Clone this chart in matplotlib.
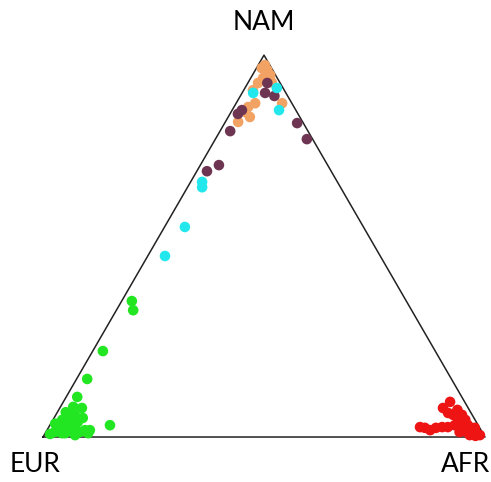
import numpy as np
import matplotlib
matplotlib.use('Agg')
import matplotlib.pyplot as plt

# ternary proportions: (AFR, NAM); EUR = 1 - AFR - NAM
orange_afr = [0.027, 0.028, 0.023, 0.021, 0.015, 0.040, 0.104, 0.032, 0.043, 0.049, 0.029, 0.012, 0.053, 0.032]
orange_nam = [0.961, 0.940, 0.927, 0.908, 0.974, 0.948, 0.874, 0.864, 0.874, 0.838, 0.825, 0.966, 0.929, 0.851]

purple_afr = [0.044, 0.052, 0.077, 0.022, 0.018, 0.023, 0.164, 0.207, 0.042, 0.023]
purple_nam = [0.927, 0.901, 0.893, 0.856, 0.846, 0.801, 0.822, 0.780, 0.712, 0.696]

cyan_afr = [0.072, 0.106, 0.025, 0.026, 0.033, 0.046, 0.039]
cyan_nam = [0.914, 0.856, 0.901, 0.668, 0.654, 0.550, 0.474]

green_afr = [0.023, 0.038, 0.023, 0.024, 0.025, 0.029, 0.050, 0.035, 0.065, 0.097, 0.136,
             0.029, 0.034, 0.052, 0.060, 0.038, 0.020, 0.077, 0.037, 0.043, 0.045, 0.086,
             0.012, 0.019, 0.021, 0.019, 0.050, 0.059, 0.097, 0.030, 0.070, 0.010]
green_nam = [0.356, 0.332, 0.225, 0.152, 0.105, 0.079, 0.076, 0.052, 0.050, 0.018, 0.031,
             0.018, 0.031, 0.018, 0.024, 0.010, 0.013, 0.013, 0.039, 0.058, 0.010, 0.018,
             0.008, 0.026, 0.045, 0.065, 0.031, 0.039, 0.010, 0.060, 0.005, 0.035]

red_afr = [0.867, 0.875, 0.902, 0.919, 0.933, 0.946, 0.962, 0.975, 0.986, 0.840, 0.852,
           0.867, 0.877, 0.890, 0.903, 0.885, 0.935, 0.952, 0.963, 0.917, 0.899, 0.965,
           0.916, 0.936, 0.977, 0.928]
red_nam = [0.076, 0.092, 0.071, 0.058, 0.045, 0.031, 0.018, 0.010, 0.005, 0.026, 0.024,
           0.018, 0.024, 0.026, 0.026, 0.063, 0.026, 0.013, 0.005, 0.045, 0.058, 0.024,
           0.031, 0.013, 0.003, 0.038]

vertex_labels = ['EUR', 'AFR', 'NAM']


def tern(afr, nam):
    afr = np.asarray(afr)
    nam = np.asarray(nam)
    return afr + nam / 2.0, nam * np.sqrt(3) / 2.0


fig = plt.figure(figsize=(4.91, 4.82), dpi=100)
ax = fig.add_axes([0, 0, 1, 1])
ax.set_xlim(-0.0973, 1.0136)
ax.set_ylim(-0.102, 0.991)
ax.axis('off')

# triangle outline
tx, ty = tern([0, 1, 0, 0], [0, 0, 1, 0])
ax.plot(tx, ty, color='#222222', lw=1.1, zorder=1)

ms = 58
for a, n, c in [(orange_afr, orange_nam, '#F2A262'),
                (purple_afr, purple_nam, '#6E3553'),
                (cyan_afr, cyan_nam, '#22E8EE'),
                (green_afr, green_nam, '#22E622'),
                (red_afr, red_nam, '#EE1414')]:
    x, y = tern(a, n)
    ax.scatter(x, y, s=ms, c=c, marker='o', edgecolors='none', zorder=2)

fs = 19
ax.text(-0.018, -0.063, vertex_labels[0], fontsize=fs, family='Lato', ha='center', va='center')
ax.text(0.955, -0.063, vertex_labels[1], fontsize=fs, family='Lato', ha='center', va='center')
ax.text(0.5, 0.941, vertex_labels[2], fontsize=fs, family='Lato', ha='center', va='center')

fig.savefig('out.png', dpi=100)
